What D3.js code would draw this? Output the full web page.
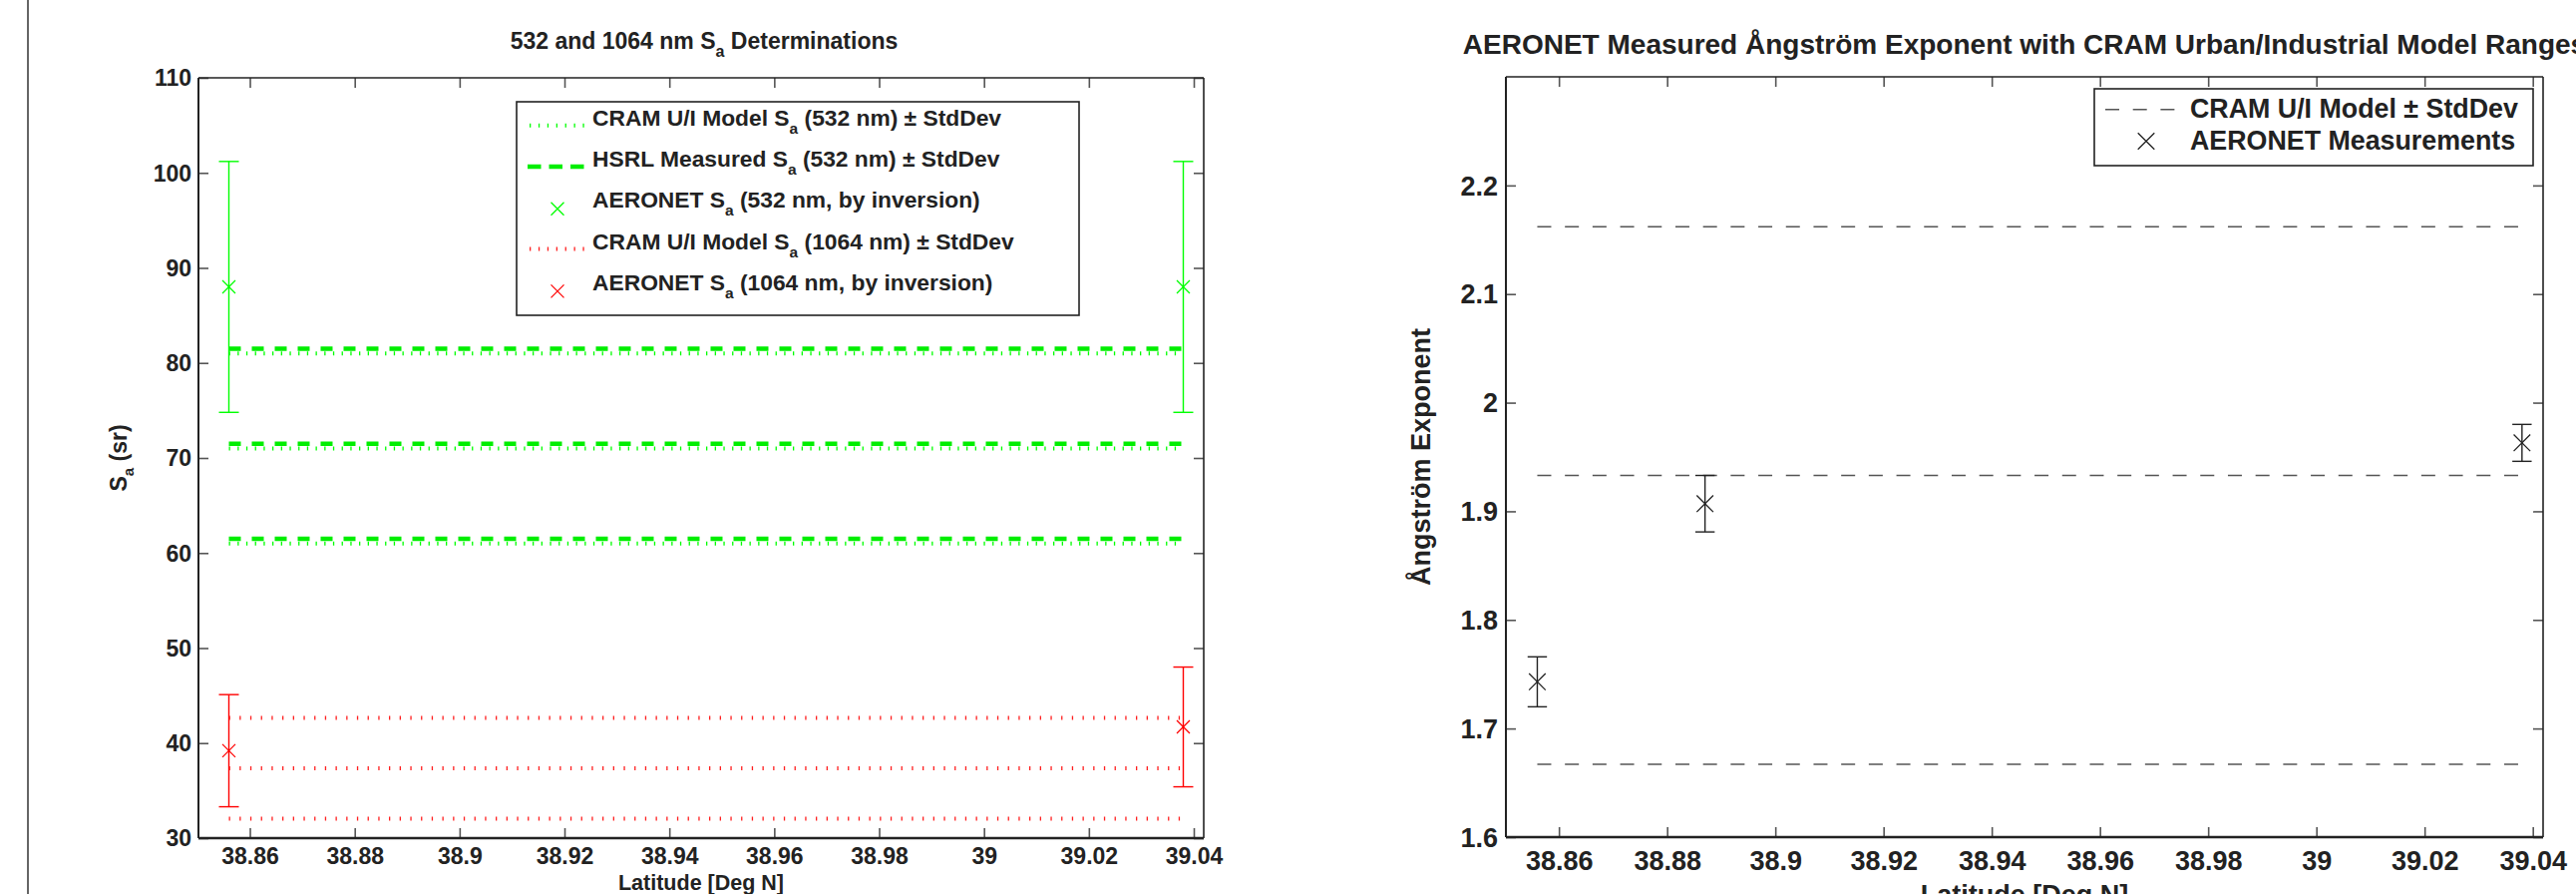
<!DOCTYPE html>
<html><head><meta charset="utf-8">
<script src="https://cdn.jsdelivr.net/npm/d3@7"></script>
<style>
body{margin:0;background:#fff}
svg{display:block;background:#fff}
text{font-family:"Liberation Sans",Arial,Helvetica,sans-serif;font-weight:bold;fill:#222}
</style>
</head><body>
<svg id="chart" width="2583" height="896"></svg>
<script>
// ---------- data ----------
const latTicks = [38.86, 38.88, 38.90, 38.92, 38.94, 38.96, 38.98, 39.00, 39.02, 39.04];
const latTickLabels = ["38.86","38.88","38.9","38.92","38.94","38.96","38.98","39","39.02","39.04"];
const latDomain = [38.8502, 39.0419];

// left panel: lidar ratio
const lat532 = [38.856, 39.038];
const aeronetSa532 = [88.0, 88.0];
const aeronetSa532Err = [13.2, 13.2];
const aeronetSa1064 = [39.2, 41.7];
const aeronetSa1064Err = [5.9, 6.3];
const cramSa532 = [61.0, 71.0, 81.0];     // mean - sd, mean, mean + sd
const hsrlSa532 = [61.5, 71.5, 81.5];     // mean - sd, mean, mean + sd
const cramSa1064 = [32.05, 37.35, 42.65]; // mean - sd, mean, mean + sd
const saTicks = [30, 40, 50, 60, 70, 80, 90, 100, 110];
const saDomain = [30, 110];

// right panel: Angstrom exponent
const angLat = [38.856, 38.887, 39.038];
const angExp = [1.743, 1.907, 1.963];
const angErr = [0.023, 0.026, 0.017];
const cramAng = [1.667, 1.933, 2.162];     // lower, mean, upper
const angTicks = [1.6, 1.7, 1.8, 1.9, 2.0, 2.1, 2.2];
const angTickLabels = ["1.6","1.7","1.8","1.9","2","2.1","2.2"];
const angDomain = [1.6, 2.3];

const legendLeft = [
  {pre:"CRAM U/I Model S", post:" (532 nm) ± StdDev", kind:"dotted", color:"#00ff00"},
  {pre:"HSRL Measured S", post:" (532 nm) ± StdDev", kind:"dashed", color:"#00ee00"},
  {pre:"AERONET S", post:" (532 nm, by inversion)", kind:"x", color:"#00ff00"},
  {pre:"CRAM U/I Model S", post:" (1064 nm) ± StdDev", kind:"dotted", color:"#ff2020"},
  {pre:"AERONET S", post:" (1064 nm, by inversion)", kind:"x", color:"#ff0000"}
];
const legendRight = [
  {label:"CRAM U/I Model ± StdDev", kind:"dashed"},
  {label:"AERONET Measurements", kind:"x"}
];

// ---------- drawing ----------
const svg = d3.select("#chart");
svg.append("line").attr("x1",28).attr("x2",28).attr("y1",0).attr("y2",896)
   .attr("stroke","#666").attr("stroke-width",2);

function xMark(g, cx, cy, s, color, w){
  g.append("path")
   .attr("d",`M${cx-s},${cy-s}L${cx+s},${cy+s}M${cx-s},${cy+s}L${cx+s},${cy-s}`)
   .attr("stroke",color).attr("stroke-width",w).attr("fill","none");
}
function errBar(g, x, y, yLo, yHi, cap, color, w){
  g.append("line").attr("x1",x).attr("x2",x).attr("y1",yLo).attr("y2",yHi)
   .attr("stroke",color).attr("stroke-width",w);
  [yLo,yHi].forEach(v=>g.append("line").attr("x1",x-cap).attr("x2",x+cap).attr("y1",v).attr("y2",v)
   .attr("stroke",color).attr("stroke-width",w));
}
function frame(g, x, y, fs, pad, tickLabelsY, yTicks){
  const [x0,x1] = x.range(), [y0,y1] = y.range();
  const bottom = g.append("g").attr("transform",`translate(0,${y0})`)
    .call(d3.axisBottom(x).tickValues(latTicks).tickFormat((d,i)=>latTickLabels[i]).tickSize(-10).tickPadding(pad.x));
  const top = g.append("g").attr("transform",`translate(0,${y1})`)
    .call(d3.axisTop(x).tickValues(latTicks).tickFormat("").tickSize(-10));
  const left = g.append("g").attr("transform",`translate(${x0},0)`)
    .call(d3.axisLeft(y).tickValues(yTicks).tickFormat((d,i)=>tickLabelsY[i]).tickSize(-10).tickPadding(pad.y));
  const right = g.append("g").attr("transform",`translate(${x1},0)`)
    .call(d3.axisRight(y).tickValues(yTicks).tickFormat("").tickSize(-10));
  [bottom,top,left,right].forEach(a=>{
    a.select(".domain").remove();
    a.selectAll(".tick line").attr("stroke","#555").attr("stroke-width",1.6);
    a.selectAll("text").attr("font-size",fs).attr("fill","#222")
      .style("font-family",'"Liberation Sans",Arial,sans-serif').style("font-weight","bold");
  });
  left.selectAll("text").attr("dy","0.34em");
  g.append("line").attr("x1",x0).attr("x2",x1).attr("y1",y1).attr("y2",y1).attr("stroke","#222").attr("stroke-width",1.6);
  g.append("line").attr("x1",x1).attr("x2",x1).attr("y1",y1).attr("y2",y0).attr("stroke","#222").attr("stroke-width",1.6);
  g.append("line").attr("x1",x0).attr("x2",x1).attr("y1",y0).attr("y2",y0).attr("stroke","#222").attr("stroke-width",2.4);
  g.append("line").attr("x1",x0).attr("x2",x0).attr("y1",y1).attr("y2",y0).attr("stroke","#222").attr("stroke-width",2);
}

// ===== left panel =====
const xL = d3.scaleLinear().domain(latDomain).range([199,1207]);
const yL = d3.scaleLinear().domain(saDomain).range([840,78]);
const gL = svg.append("g");
const hline = (g, x, y, lats, vals, color, w, dash)=>{
  const ln = d3.line().x(d=>x(d[0])).y(d=>y(d[1]));
  vals.forEach(v=>g.append("path").attr("d",ln(lats.map(l=>[l,v])))
    .attr("stroke",color).attr("stroke-width",w).attr("stroke-dasharray",dash).attr("fill","none"));
};
hline(gL, xL, yL, lat532, cramSa1064, "#ff2020", 4, "1.3,9.4");
hline(gL, xL, yL, lat532, cramSa532, "#00ff00", 4, "1.3,7.4");
hline(gL, xL, yL, lat532, hsrlSa532, "#00ee00", 4.5, "12,11");
lat532.forEach((l,i)=>{
  errBar(gL, xL(l), yL(aeronetSa532[i]), yL(aeronetSa532[i]-aeronetSa532Err[i]), yL(aeronetSa532[i]+aeronetSa532Err[i]), 10, "#00ff00", 1.4);
  xMark(gL, xL(l), yL(aeronetSa532[i]), 6.5, "#00ff00", 1.3);
  errBar(gL, xL(l), yL(aeronetSa1064[i]), yL(aeronetSa1064[i]-aeronetSa1064Err[i]), yL(aeronetSa1064[i]+aeronetSa1064Err[i]), 10, "#ff0000", 1.4);
  xMark(gL, xL(l), yL(aeronetSa1064[i]), 6.5, "#ff0000", 1.3);
});
frame(gL, xL, yL, 23, {x:10, y:7}, saTicks.map(String), saTicks);

// title
const tL = gL.append("text").attr("x",706).attr("y",49).attr("text-anchor","middle").attr("font-size",23);
tL.append("tspan").text("532 and 1064 nm S");
tL.append("tspan").attr("font-size",16).attr("dy",8).text("a");
tL.append("tspan").attr("dy",-8).text(" Determinations");
// labels
gL.append("text").attr("x",703).attr("y",891.5).attr("text-anchor","middle").attr("font-size",21.5).text("Latitude [Deg N]");
const yLab = gL.append("text").attr("transform","translate(127,459) rotate(-90)").attr("text-anchor","middle").attr("font-size",23);
yLab.append("tspan").text("S");
yLab.append("tspan").attr("font-size",15).attr("dy",7).text("a");
yLab.append("tspan").attr("dy",-7).text(" (sr)");

// legend left
gL.append("rect").attr("x",518).attr("y",102).attr("width",564).attr("height",214)
  .attr("fill","#fff").attr("stroke","#222").attr("stroke-width",1.6);
legendLeft.forEach((e,i)=>{
  const by = 125.7 + i*41.3;
  if(e.kind==="dotted") gL.append("line").attr("x1",531).attr("x2",587).attr("y1",by).attr("y2",by)
     .attr("stroke",e.color).attr("stroke-width",4).attr("stroke-dasharray","1.3,7.6");
  else if(e.kind==="dashed") gL.append("line").attr("x1",529).attr("x2",587).attr("y1",by).attr("y2",by)
     .attr("stroke",e.color).attr("stroke-width",4.5).attr("stroke-dasharray","13.5,8");
  else xMark(gL, 559, by+1, 6.5, e.color, 1.3);
  const t = gL.append("text").attr("x",594).attr("y",by).attr("font-size",22.8);
  t.append("tspan").text(e.pre);
  t.append("tspan").attr("font-size",15.5).attr("dy",8).text("a");
  t.append("tspan").attr("dy",-8).text(e.post);
});

// ===== right panel =====
const xR = d3.scaleLinear().domain(latDomain).range([1510,2550]);
const yR = d3.scaleLinear().domain(angDomain).range([839,77]);
const gR = svg.append("g");
hline(gR, xR, yR, [angLat[0], angLat[angLat.length-1]], cramAng, "#555", 1.6, "14,13.7");
angLat.forEach((l,i)=>{
  errBar(gR, xR(l), yR(angExp[i]), yR(angExp[i]-angErr[i]), yR(angExp[i]+angErr[i]), 9.7, "#222", 1.4);
  xMark(gR, xR(l), yR(angExp[i]), 8.3, "#222", 1.3);
});
frame(gR, xR, yR, 27, {x:14, y:8}, angTickLabels, angTicks);
gR.append("text").attr("x",2030).attr("y",54).attr("text-anchor","middle").attr("font-size",28)
  .text("AERONET Measured Ångström Exponent with CRAM Urban/Industrial Model Ranges");
gR.append("text").attr("x",2030).attr("y",906).attr("text-anchor","middle").attr("font-size",27).text("Latitude [Deg N]");
gR.append("text").attr("transform","translate(1434,458) rotate(-90)").attr("text-anchor","middle").attr("font-size",27)
  .text("Ångström Exponent");
// legend right
gR.append("rect").attr("x",2100).attr("y",89).attr("width",440).attr("height",77)
  .attr("fill","#fff").attr("stroke","#222").attr("stroke-width",1.6);
legendRight.forEach((e,i)=>{
  const by = 118.3 + i*31.7;
  if(e.kind==="dashed") gR.append("line").attr("x1",2111).attr("x2",2191).attr("y1",by-8.5).attr("y2",by-8.5)
     .attr("stroke","#555").attr("stroke-width",1.6).attr("stroke-dasharray","14,13.7");
  else xMark(gR, 2152, by-8.5, 8.3, "#222", 1.3);
  gR.append("text").attr("x",2196).attr("y",by).attr("font-size",26.8).text(e.label);
});
</script>
</body></html>
